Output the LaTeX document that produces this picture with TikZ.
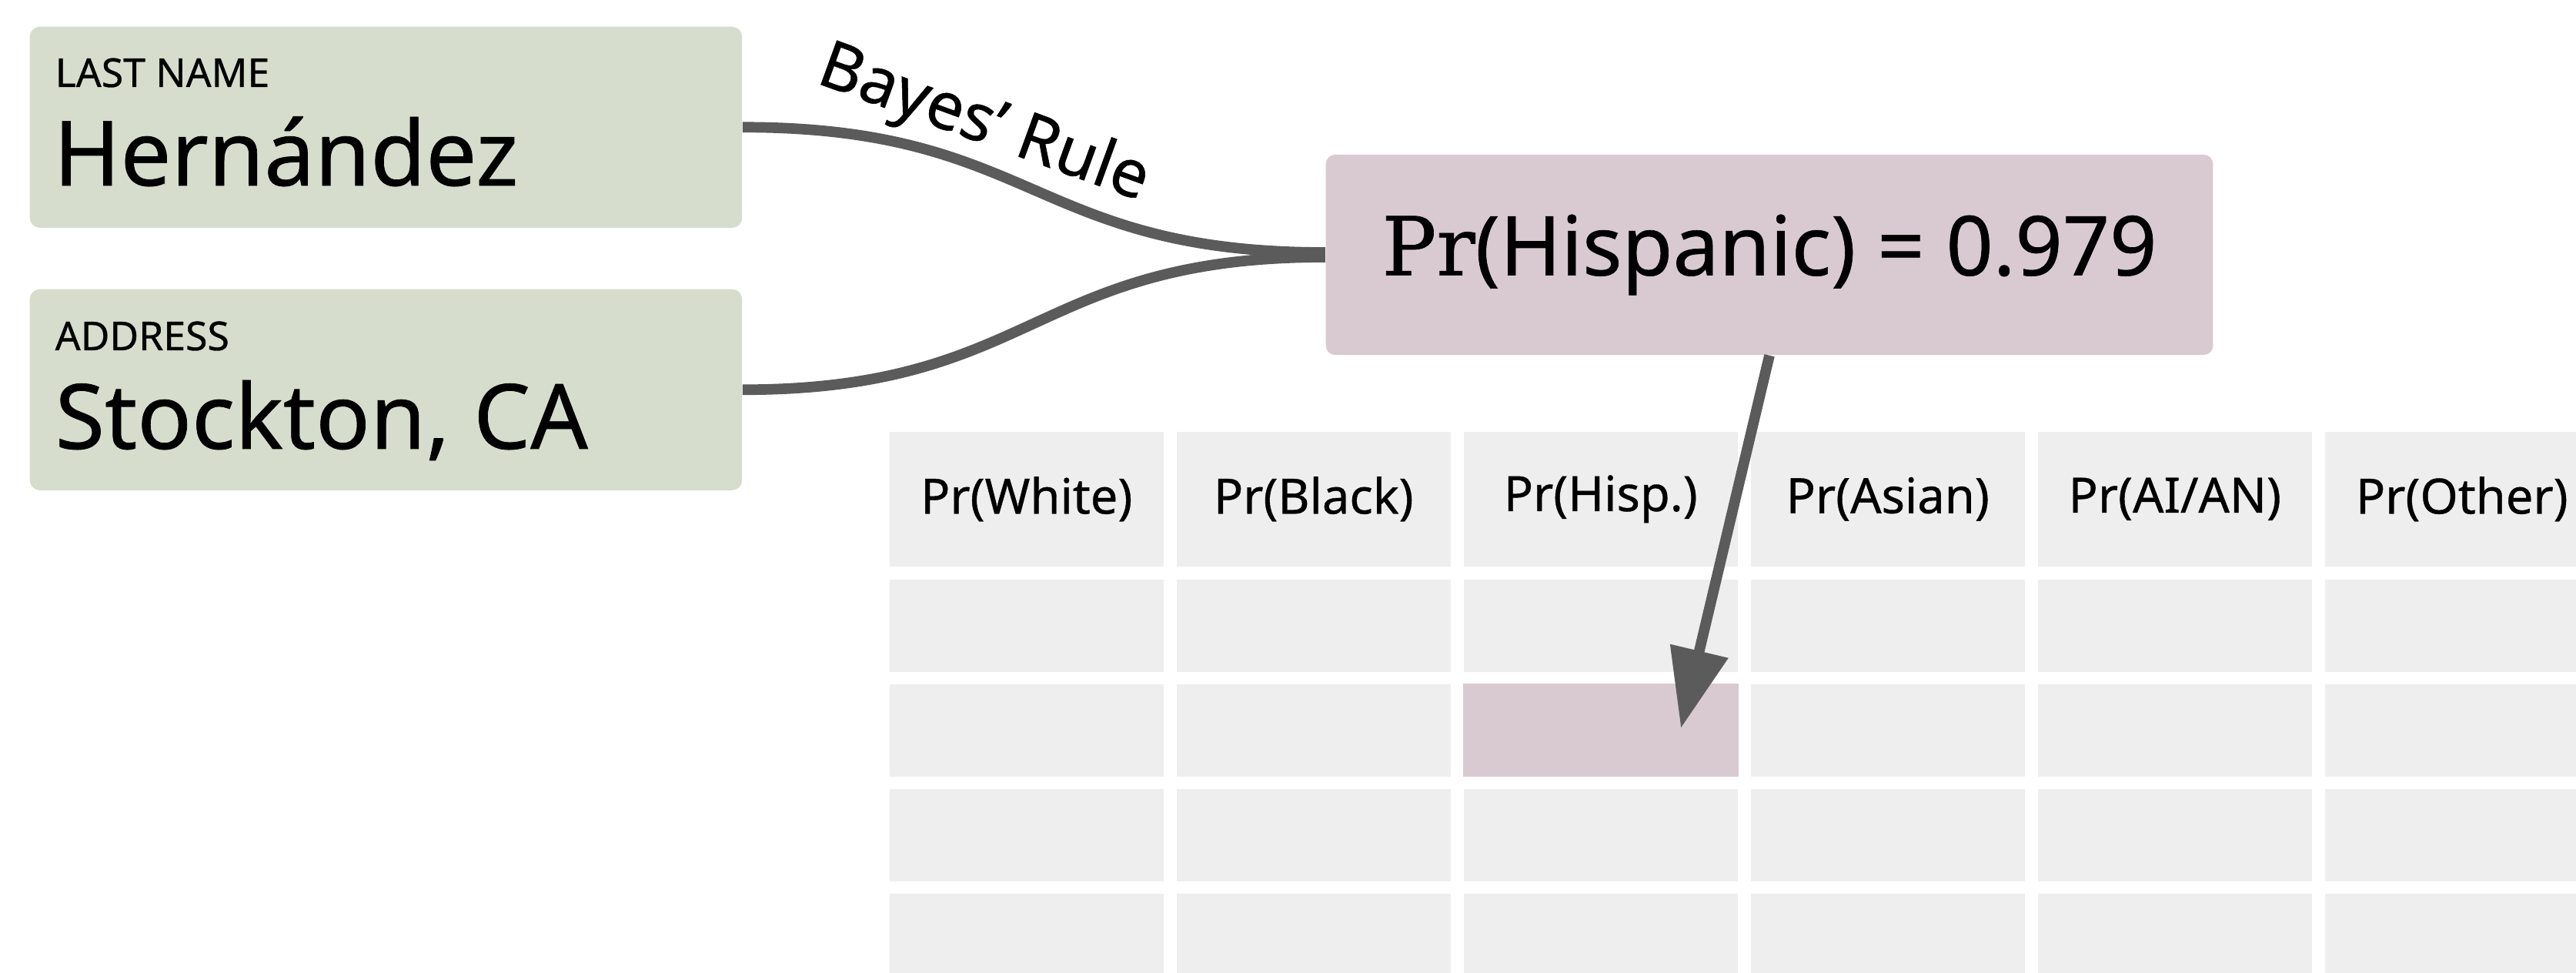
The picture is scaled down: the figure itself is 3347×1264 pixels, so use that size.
\documentclass[tikz,border=0pt]{standalone}
\usepackage{fontspec}
\setmainfont{Noto Sans}[BoldFont=Noto Sans, BoldFeatures={FakeBold=0.6}]
\newfontfamily\serifpr{DejaVu Serif}[BoldFont=DejaVu Serif, BoldFeatures={FakeBold=0.6}]
\usetikzlibrary{arrows.meta,calc}
\definecolor{boxgreen}{HTML}{D6DDCC}
\definecolor{boxpink}{HTML}{D9CAD1}
\definecolor{cellgray}{HTML}{EEEEEE}
\definecolor{linegray}{HTML}{5B5B5B}
\tikzset{
  inbox/.style={fill=boxgreen, draw=none, rounded corners=0.13cm, minimum width=9.25cm, minimum height=2.61cm, anchor=north west, inner sep=0pt},
  smalllab/.style={font=\fontsize{14.7}{17}\selectfont\bfseries, anchor=base west, inner sep=0pt},
  biglab/.style={font=\fontsize{33.3}{38}\selectfont\bfseries, anchor=base west, inner sep=0pt},
  probbox/.style={fill=boxpink, rounded corners=0.12cm, minimum width=11.52cm, minimum height=2.6cm, inner sep=0pt, font=\fontsize{30.5}{34}\selectfont\bfseries},
  cellbox/.style={fill=cellgray, minimum width=3.56cm, minimum height=1.2cm, anchor=north west, inner sep=0pt},
  headbox/.style={cellbox, minimum height=1.75cm, font=\fontsize{18}{21}\selectfont\bfseries},
  conn/.style={draw=linegray, line width=3.9pt},
}
\begin{document}
\begin{tikzpicture}[x=0.01cm, y=-0.01cm]
\useasboundingbox (0,0) rectangle (3347,1264);
\clip (0,0) rectangle (3347,1264);

% input boxes
\node[inbox] (last) at (38,34) {};
\node[smalllab] (lastlab) at (71,113) {LAST NAME};
\node[biglab] (lastval) at (69,241) {Hernández};
\node[inbox] (addr) at (38,375) {};
\node[smalllab] (addrlab) at (71,455) {ADDRESS};
\node[biglab] (addrval) at (71,583) {Stockton, CA};

% probability box
\node[probbox] (prob) at (2299,331) {{\serifpr\fontsize{30}{34}\selectfont\bfseries Pr}(Hispanic) = 0.979};

% connectors
\draw[conn] (last.east) .. controls +(381,0) and +(-381,0) .. ($(prob.west)+(0,-3)$);
\draw[conn] (addr.east) .. controls +(381,0) and +(-381,0) .. ($(prob.west)+(0,3)$);
\node[font=\fontsize{24.3}{28}\selectfont\bfseries, rotate=-20, anchor=base, inner sep=0pt] (bayes) at (1270,184) {Bayes’ Rule};

% table
\foreach \i/\t in {0/{Pr(White)},1/{Pr(Black)},2/{Pr(Hisp.)},3/{Pr(Asian)},4/{Pr(AI/AN)},5/{Pr(Other)}}
  \node[headbox] (h\i) at ({1155+373*\i},560) {\t};
\foreach \r in {0,...,4}
  \foreach \i in {0,...,5}
    \node[cellbox] (c\r\i) at ({1155+373*\i},{752+136*\r}) {};
\fill[boxpink] (c12.north west) rectangle (c12.south east);

% arrow
\coordinate (tgt) at (2184,946);
\draw[conn, -{Triangle[length=1.03cm, width=0.74cm]}] (prob.south) -- (tgt);
\end{tikzpicture}
\end{document}
